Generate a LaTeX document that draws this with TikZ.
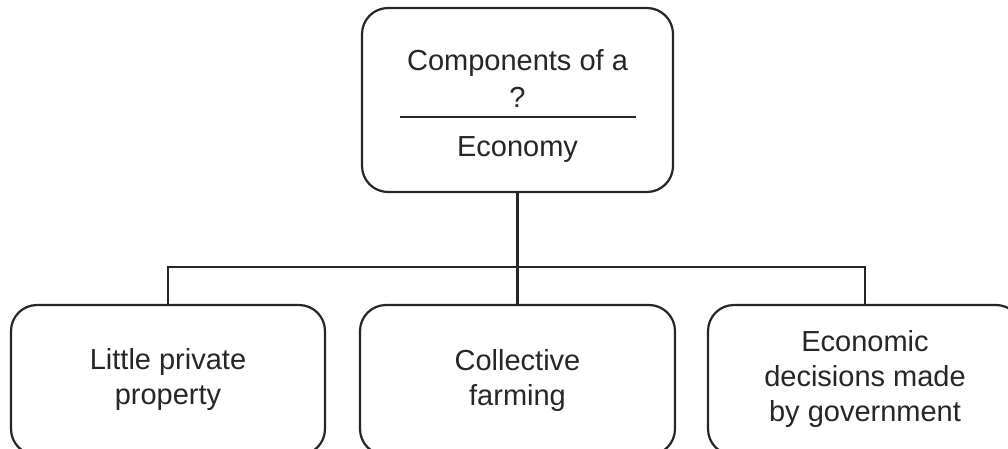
\documentclass[tikz,border=0pt]{standalone}
\usepackage{fontspec}
\setmainfont{Liberation Sans}
\begin{document}
\begin{tikzpicture}[x=1pt,y=-1pt,
  box/.style={draw=black!85, line width=2.2pt, rounded corners=26pt, inner sep=0pt},
  lbl/.style={align=center, font=\fontsize{29}{35}\selectfont, text=black!85, inner sep=0pt},
  wire/.style={draw=black!85, line width=2.2pt}]
\useasboundingbox (0,0) rectangle (1008,449);
\clip (0,0) rectangle (1008,449);
\fill[white] (0,0) rectangle (1008,449);
% top box
\node[box, minimum width=311pt, minimum height=184pt] (top) at (517.5,100) {};
\node[lbl] (t1) at (517.5,63) {Components of a};
\node[lbl] (t2) at (517.5,97) {?};
\node[lbl] (t3) at (517.5,150) {Economy};
\coordinate (dl) at (400,117);
\coordinate (dr) at (636,117);
\draw[wire] (dl) -- (dr);
% bottom boxes
\node[box, minimum width=314pt, minimum height=150pt] (b1) at (168,380) {};
\node[box, minimum width=315pt, minimum height=150pt] (b2) at (517.5,380) {};
\node[box, minimum width=314pt, minimum height=150pt] (b3) at (865,380) {};
\node[lbl] (l1) at (168,379) {Little private\\property};
\node[lbl] (l2) at (517.5,380) {Collective\\farming};
\node[lbl] (l3) at (865,379) {Economic\\decisions made\\by government};
% connectors
\coordinate (bus) at (517.5,267);
\draw[wire] (top.south) -- (b2.north);
\draw[wire] (b1.north) -- (b1.north |- bus) -- (b3.north |- bus) -- (b3.north);
\end{tikzpicture}
\end{document}
